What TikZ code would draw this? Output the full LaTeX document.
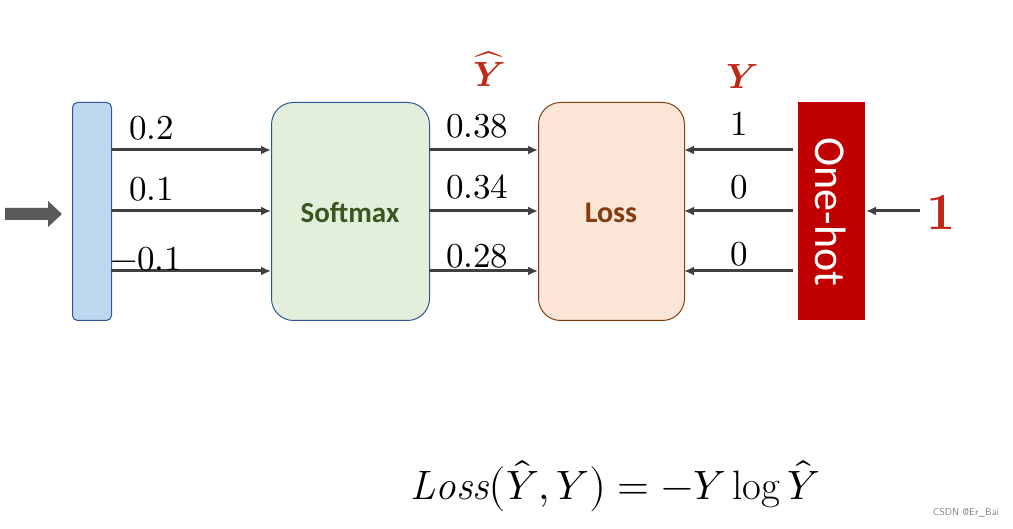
\documentclass[tikz,border=0pt]{standalone}
\usepackage{fontspec}
\usepackage{unicode-math}
\setmathfont{Latin Modern Math}
\newfontfamily\calibri{Carlito}
\usetikzlibrary{arrows.meta}
\definecolor{bluefill}{RGB}{189,215,238}
\definecolor{blueedge}{RGB}{47,85,151}
\definecolor{greenfill}{RGB}{226,239,218}
\definecolor{greentext}{RGB}{56,87,35}
\definecolor{orangefill}{RGB}{251,229,214}
\definecolor{brownedge}{RGB}{132,60,12}
\definecolor{onehotred}{RGB}{192,0,0}
\definecolor{labelred}{RGB}{190,40,20}
\definecolor{arrowgray}{RGB}{64,64,64}
\definecolor{bigarrow}{RGB}{89,89,89}
\begin{document}
\begin{tikzpicture}[x=1pt,y=-1pt,
  box/.style={draw, line width=1pt, inner sep=0pt, anchor=north west},
  conn/.style={draw=arrowgray, line width=3pt, -{Latex[length=10pt,width=9pt]}},
  val/.style={font=\fontsize{35}{37}\selectfont, inner sep=0pt},
  redlab/.style={text=labelred, inner sep=0pt}]
\useasboundingbox (0,0) rectangle (1013,529);
% boxes
\node[box, draw=blueedge, fill=bluefill, rounded corners=5pt, minimum width=39pt, minimum height=218pt] (vec) at (72,102) {};
\node[box, draw=blueedge, fill=greenfill, rounded corners=22pt, minimum width=158pt, minimum height=218pt] (soft) at (271,102) {};
\node[text=greentext, font=\calibri\bfseries\fontsize{29}{31}\selectfont] (softtxt) at (350,213) {Softmax};
\node[box, draw=brownedge, fill=orangefill, rounded corners=22pt, minimum width=146pt, minimum height=218pt] (loss) at (538,102) {};
\node[text=brownedge, font=\calibri\bfseries\fontsize{30}{32}\selectfont] (losstxt) at (611,213) {Loss};
\node[box, draw=none, fill=onehotred, minimum width=67pt, minimum height=218pt] (oh) at (797,102) {};
\node[text=white, rotate=-90, font=\calibri\fontsize{44}{46}\selectfont] (ohtxt) at (831,212) {One-hot};
% input arrow (block arrow)
\fill[bigarrow] (5,208) -- (48,208) -- (48,201) -- (62,214) -- (48,227) -- (48,220) -- (5,220) -- cycle;
\coordinate (inarrtip) at (62,214);
% coordinates for arrows
\foreach \y [count=\i] in {150,211,271}{
  \coordinate (a\i) at (111,\y);
  \coordinate (b\i) at (271,\y);
  \coordinate (c\i) at (429,\y);
  \coordinate (d\i) at (538,\y);
  \coordinate (e\i) at (684,\y);
  \coordinate (f\i) at (793,\y);
}
\foreach \i in {1,2,3}{
  \draw[conn] (a\i) -- (b\i);
  \draw[conn] (c\i) -- (d\i);
  \draw[conn] (f\i) -- (e\i);
}
\coordinate (oneend) at (920,211);
\coordinate (ohin) at (866,211);
\draw[conn] (oneend) -- (ohin);
% values
\node[val, anchor=west] (v1) at (129,128) {$0.2$};
\node[val, anchor=west] (v2) at (129,189) {$0.1$};
\node[val, anchor=west] (v3) at (110,259) {$-0.1$};
\node[val, anchor=west] (w1) at (446,126) {$0.38$};
\node[val, anchor=west] (w2) at (446,187) {$0.34$};
\node[val, anchor=west] (w3) at (446,256) {$0.28$};
\node[val] (y1) at (739,124) {$1$};
\node[val] (y2) at (739,187) {$0$};
\node[val] (y3) at (739,254) {$0$};
% red labels
\node[redlab, font=\fontsize{35}{37}\selectfont] (yhat) at (489,69) {$\widehat{\symbfit{Y}}$};
\node[redlab, font=\fontsize{35}{37}\selectfont] (ylab) at (742,76) {$\symbfit{Y}$};
\node[redlab, font=\bfseries\fontsize{52}{54}\selectfont] (one) at (941,212) {1};
% formula
\node[font=\fontsize{41}{44}\selectfont, inner sep=0pt] (formula) at (615,487) {$\mathit{Loss}\bigl(\hat{Y},Y\bigr)=-Y\log\hat{Y}$};
% watermark
\node[text=gray, font=\sffamily\fontsize{10}{12}\selectfont, inner sep=0pt] (wm) at (966,513) {CSDN @Er\_Bai};
\end{tikzpicture}
\end{document}
